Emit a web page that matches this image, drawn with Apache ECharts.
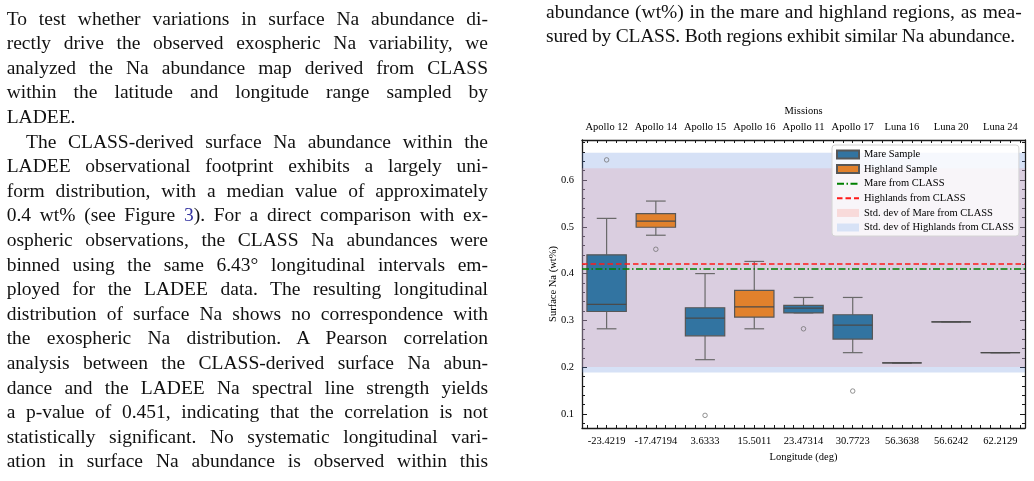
<!DOCTYPE html>
<html>
<head>
<meta charset="utf-8">
<script src="https://cdn.jsdelivr.net/npm/echarts@6/dist/echarts.min.js"></script>
<style>
html,body{margin:0;padding:0;background:#fff;}
body{width:1034px;height:481px;overflow:hidden;position:relative;font-family:"Liberation Serif",serif;color:#111;}
#chart{position:absolute;left:0;top:0;width:1034px;height:481px;}
.col{position:absolute;font-size:19.5px;line-height:24.6px;}
.ln{white-space:nowrap;}
.ln.j{text-align:justify;text-align-last:justify;}
.ind{padding-left:19.3px;}
.ref{color:#3333a0;}
</style>
</head>
<body>
<div id="chart"></div>

<div class="col" id="leftCol" style="left:6.7px;top:6.7px;width:481.3px;">
  <div class="ln fit"><span>To test whether variations in surface Na abundance di-</span></div>
  <div class="ln fit"><span>rectly drive the observed exospheric Na variability, we</span></div>
  <div class="ln fit"><span>analyzed the Na abundance map derived from CLASS</span></div>
  <div class="ln fit"><span>within the latitude and longitude range sampled by</span></div>
  <div class="ln"><span>LADEE.</span></div>
  <div class="ln fit ind"><span>The CLASS-derived surface Na abundance within the</span></div>
  <div class="ln fit"><span>LADEE observational footprint exhibits a largely uni-</span></div>
  <div class="ln fit"><span>form distribution, with a median value of approximately</span></div>
  <div class="ln fit"><span>0.4 wt% (see Figure <span class="ref">3</span>). For a direct comparison with ex-</span></div>
  <div class="ln fit"><span>ospheric observations, the CLASS Na abundances were</span></div>
  <div class="ln fit"><span>binned using the same 6.43° longitudinal intervals em-</span></div>
  <div class="ln fit"><span>ployed for the LADEE data. The resulting longitudinal</span></div>
  <div class="ln fit"><span>distribution of surface Na shows no correspondence with</span></div>
  <div class="ln fit"><span>the exospheric Na distribution. A Pearson correlation</span></div>
  <div class="ln fit"><span>analysis between the CLASS-derived surface Na abun-</span></div>
  <div class="ln fit"><span>dance and the LADEE Na spectral line strength yields</span></div>
  <div class="ln fit"><span>a p-value of 0.451, indicating that the correlation is not</span></div>
  <div class="ln fit"><span>statistically significant. No systematic longitudinal vari-</span></div>
  <div class="ln fit"><span>ation in surface Na abundance is observed within this</span></div>
</div>

<div class="col" id="rightCol" style="left:546px;top:-0.2px;width:475.7px;">
  <div class="ln fit"><span>abundance (wt%) in the mare and highland regions, as mea-</span></div>
  <div class="ln fit" style="width:469px;"><span>sured by CLASS. Both regions exhibit similar Na abundance.</span></div>
</div>

<script>
// 任务与经度
var missions = ['Apollo 12','Apollo 14','Apollo 15','Apollo 16','Apollo 11','Apollo 17','Luna 16','Luna 20','Luna 24'];
var longitudes = ['-23.4219','-17.47194','3.6333','15.5011','23.47314','30.7723','56.3638','56.6242','62.2129'];
var regions = ['mare','highland','mare','highland','mare','mare','mare','highland','mare'];

// 箱线图统计量 (wt%)
var whiskerLow  = [0.282, 0.482, 0.216, 0.282, 0.316, 0.231, 0.209, 0.297, 0.231];
var quartile1   = [0.319, 0.499, 0.267, 0.307, 0.316, 0.260, 0.209, 0.297, 0.231];
var medians     = [0.334, 0.512, 0.305, 0.329, 0.326, 0.290, 0.209, 0.297, 0.231];
var quartile3   = [0.440, 0.528, 0.327, 0.364, 0.332, 0.312, 0.209, 0.297, 0.231];
var whiskerHigh = [0.518, 0.555, 0.400, 0.426, 0.349, 0.349, 0.209, 0.297, 0.231];

// 离群点: [任务序号, 值]
var outlierIndex = [0, 1, 2, 4, 5];
var outlierValue = [0.643, 0.452, 0.097, 0.282, 0.149];

// CLASS 均值与标准差
var mareMean = 0.4126, mareStd = 0.2125;
var highMean = 0.4235, highStd = 0.2348;

// 刻度: min, max, step
var yTicksMajor = [0.1, 0.6, 0.1];
var yTicksMinor = [0.08, 0.68, 0.02];
var xTicksMinor = [-0.4, 8.4, 0.2];

// 文字排版: 两端对齐
(function(){
  var lines = document.querySelectorAll('.ln.fit');
  lines.forEach(function(el){
    var span = el.firstElementChild;
    var pad = parseFloat(getComputedStyle(el).paddingLeft) || 0;
    var avail = el.clientWidth - pad;
    var w = span.getBoundingClientRect().width;
    if (w > avail) {
      var n = span.textContent.length;
      el.style.letterSpacing = ((avail - w) / n) + 'px';
    }
    el.classList.add('j');
  });
})();

var font = 'Liberation Serif';
var axisColor = '#1a1a1a';

// 主绘图区
var plotLeft = 582, plotTop = 140, plotW = 443, plotH = 288;
var yMin = 0.07, yMax = 0.6855;
function yPix(v){ return plotTop + (yMax - v) / (yMax - yMin) * plotH; }
var band = plotW / missions.length;

var mareBoxes = [], highBoxes = [];
for (var i = 0; i < missions.length; i++) {
  var row = [i, whiskerLow[i], quartile1[i], medians[i], quartile3[i], whiskerHigh[i]];
  if (regions[i] == 'mare') mareBoxes.push(row); else highBoxes.push(row);
}
var outliers = [];
for (var k = 0; k < outlierIndex.length; k++) outliers.push([outlierIndex[k], outlierValue[k]]);

function renderBox(params, api){
  var c = api.value(0);
  var pLow = api.coord([c, api.value(1)]);
  var pQ1 = api.coord([c, api.value(2)]);
  var pMed = api.coord([c, api.value(3)]);
  var pQ3 = api.coord([c, api.value(4)]);
  var pHigh = api.coord([c, api.value(5)]);
  var w = api.size([1, 0])[0] * 0.8;
  var x = pMed[0];
  var ls = {stroke:'#6a6a6a', lineWidth:1.2};
  return {
    type:'group',
    children:[
      {type:'line', shape:{x1:x, y1:pQ3[1], x2:x, y2:pHigh[1]}, style:ls},
      {type:'line', shape:{x1:x, y1:pQ1[1], x2:x, y2:pLow[1]}, style:ls},
      {type:'line', shape:{x1:x - w/4, y1:pHigh[1], x2:x + w/4, y2:pHigh[1]}, style:ls},
      {type:'line', shape:{x1:x - w/4, y1:pLow[1], x2:x + w/4, y2:pLow[1]}, style:ls},
      {type:'rect', shape:{x:x - w/2, y:pQ3[1], width:w, height:pQ1[1] - pQ3[1]},
        style:{fill:api.visual('color'), stroke:'#575757', lineWidth:1.2}},
      {type:'line', shape:{x1:x - w/2, y1:pMed[1], x2:x + w/2, y2:pMed[1]}, style:{stroke:'#4a4a4a', lineWidth:1.2}}
    ]
  };
}

function tickAxis(grid, pos, range, len){
  return {
    type:'value', gridIndex:grid, position:pos,
    min:range[0], max:range[1], interval:range[2],
    axisLine:{show:false}, axisLabel:{show:false}, splitLine:{show:false},
    axisTick:{show:true, inside:true, length:len, lineStyle:{color:axisColor, width:1}}
  };
}

var textBase = {fontFamily:font, fontSize:10.5, color:'#000'};
var noDot = {opacity:0};

var myChart = echarts.init(document.getElementById('chart'));
var option = {
  animation:false,
  textStyle:{fontFamily:font},
  grid:[
    {left:plotLeft, top:plotTop, width:plotW, height:plotH},
    {left:plotLeft + band*0.1, top:plotTop, width:plotW - band*0.2, height:plotH},
    {left:plotLeft, top:yPix(yTicksMinor[1]), width:plotW, height:yPix(yTicksMinor[0]) - yPix(yTicksMinor[1])},
    {left:plotLeft, top:yPix(yTicksMajor[1]), width:plotW, height:yPix(yTicksMajor[0]) - yPix(yTicksMajor[1])}
  ],
  xAxis:[
    {type:'category', gridIndex:0, position:'bottom', data:longitudes,
      axisLine:{lineStyle:{color:axisColor, width:1.3}},
      axisTick:{inside:true, alignWithLabel:true, interval:0, length:5, lineStyle:{color:axisColor}},
      axisLabel:Object.assign({margin:8, interval:0}, textBase),
      name:'Longitude (deg)', nameLocation:'middle', nameGap:22, nameTextStyle:textBase},
    {type:'category', gridIndex:0, position:'top', data:missions,
      axisLine:{lineStyle:{color:axisColor, width:1.3}},
      axisTick:{inside:true, alignWithLabel:true, interval:0, length:5, lineStyle:{color:axisColor}},
      axisLabel:Object.assign({margin:7, interval:0}, textBase),
      name:'Missions', nameLocation:'middle', nameGap:20, nameTextStyle:textBase},
    tickAxis(1, 'bottom', xTicksMinor, 3),
    tickAxis(1, 'top', xTicksMinor, 3),
    {type:'value', gridIndex:2, show:false},
    {type:'value', gridIndex:3, show:false}
  ],
  yAxis:[
    {type:'value', gridIndex:0, position:'left', min:yMin, max:yMax,
      axisLine:{show:true, lineStyle:{color:axisColor, width:1.3}},
      axisTick:{show:false}, axisLabel:{show:false}, splitLine:{show:false},
      name:'Surface Na (wt%)', nameLocation:'middle', nameGap:23, nameTextStyle:textBase},
    {type:'value', gridIndex:0, position:'right', min:yMin, max:yMax,
      axisLine:{show:true, lineStyle:{color:axisColor, width:1.3}},
      axisTick:{show:false}, axisLabel:{show:false}, splitLine:{show:false}},
    {type:'value', gridIndex:1, show:false},
    tickAxis(2, 'left', yTicksMinor, 3),
    tickAxis(2, 'right', yTicksMinor, 3),
    Object.assign(tickAxis(3, 'left', yTicksMajor, 5),
      {axisLabel:Object.assign({show:true, margin:8, formatter:function(v){return v.toFixed(1);}}, textBase)}),
    tickAxis(3, 'right', yTicksMajor, 5)
  ],
  legend:{
    orient:'vertical', left:832, top:145,
    padding:[4, 5, 3, 4], itemGap:3.6,
    itemWidth:22, itemHeight:8,
    backgroundColor:'rgba(255,255,255,0.8)', borderColor:'#d4d4d4', borderWidth:1, borderRadius:3,
    textStyle:{fontFamily:font, fontSize:10.5, color:'#000'},
    selectedMode:false,
    data:[
      {name:'Mare Sample', icon:'rect'},
      {name:'Highland Sample', icon:'rect'},
      {name:'Mare from CLASS', itemStyle:noDot},
      {name:'Highlands from CLASS', itemStyle:noDot},
      {name:'Std. dev of Mare from CLASS', icon:'rect', itemStyle:{color:'#f8dada', borderWidth:0}},
      {name:'Std. dev of Highlands from CLASS', icon:'rect', itemStyle:{color:'#d7e2f6', borderWidth:0}}
    ]
  },
  series:[
    {name:'Std. dev of Highlands from CLASS', type:'line', xAxisIndex:0, yAxisIndex:0, data:[], z:1,
      itemStyle:{color:'#d7e2f6'}, silent:true,
      markArea:{silent:true, itemStyle:{color:'rgba(91,135,219,0.25)', opacity:1},
        data:[[{yAxis:highMean - highStd}, {yAxis:highMean + highStd}]]}},
    {name:'Std. dev of Mare from CLASS', type:'line', xAxisIndex:0, yAxisIndex:0, data:[], z:1,
      itemStyle:{color:'#f8dada'}, silent:true,
      markArea:{silent:true, itemStyle:{color:'rgba(224,162,173,0.3)', opacity:1},
        data:[[{yAxis:mareMean - mareStd}, {yAxis:mareMean + mareStd}]]}},
    {name:'Mare Sample', type:'custom', xAxisIndex:0, yAxisIndex:0, z:3,
      itemStyle:{color:'#3274a1', borderColor:'#575757', borderWidth:1},
      renderItem:renderBox, encode:{x:0, y:[1,2,3,4,5]}, data:mareBoxes},
    {name:'Highland Sample', type:'custom', xAxisIndex:0, yAxisIndex:0, z:3,
      itemStyle:{color:'#e1812c', borderColor:'#575757', borderWidth:1},
      renderItem:renderBox, encode:{x:0, y:[1,2,3,4,5]}, data:highBoxes},
    {name:'Outliers', type:'scatter', xAxisIndex:0, yAxisIndex:0, z:3,
      symbol:'circle', symbolSize:4.5,
      itemStyle:{color:'rgba(0,0,0,0)', borderColor:'#6a6a6a', borderWidth:0.9},
      data:outliers},
    {name:'Mare from CLASS', type:'line', xAxisIndex:0, yAxisIndex:0, data:[], z:4,
      symbol:'none', showSymbol:false,
      itemStyle:{color:'#008000'},
      lineStyle:{color:'#008000', width:1.5, type:[7, 2.5, 1.5, 2.5]},
      markLine:{silent:true, symbol:['none','none'], label:{show:false},
        lineStyle:{color:'#008000', width:1.5, type:[7, 2.5, 1.5, 2.5]},
        data:[{yAxis:mareMean}]}},
    {name:'Highlands from CLASS', type:'line', xAxisIndex:0, yAxisIndex:0, data:[], z:4,
      symbol:'none', showSymbol:false,
      itemStyle:{color:'#ff1a1a'},
      lineStyle:{color:'#ff1a1a', width:1.5, type:[5.5, 3]},
      markLine:{silent:true, symbol:['none','none'], label:{show:false},
        lineStyle:{color:'#ff1a1a', width:1.5, type:[5.5, 3]},
        data:[{yAxis:highMean}]}}
  ]
};
myChart.setOption(option);
</script>
</body>
</html>
